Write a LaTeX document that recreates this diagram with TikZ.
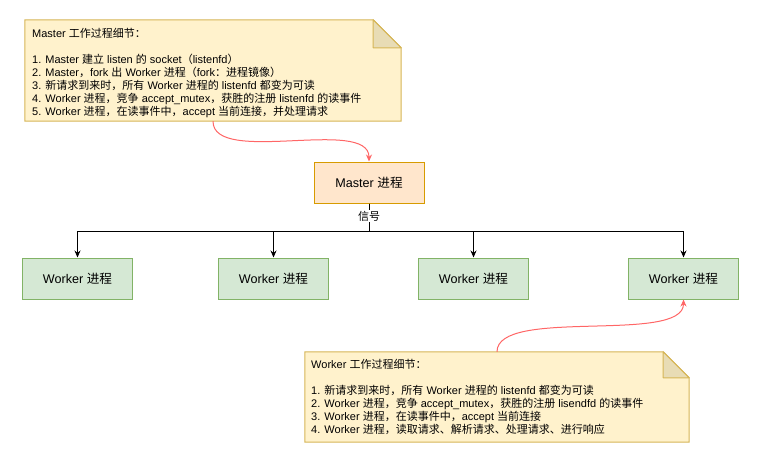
\documentclass[tikz,border=0pt]{standalone}
\usepackage{fontspec}
\setmainfont{Liberation Sans}
\newfontfamily\cjk{Noto Sans CJK SC}
% switch to the CJK font for CJK characters
\XeTeXinterchartokenstate=1
\newXeTeXintercharclass\cjkcls
\makeatletter
\count@="3000
\loop\XeTeXcharclass\count@=\cjkcls\advance\count@ 1 \ifnum\count@<"3040 \repeat
\count@="4E00
\loop\XeTeXcharclass\count@=\cjkcls\advance\count@ 1 \ifnum\count@<"A000 \repeat
\count@="FF00
\loop\XeTeXcharclass\count@=\cjkcls\advance\count@ 1 \ifnum\count@<"FFF0 \repeat
\makeatother
\XeTeXinterchartoks 0 \cjkcls = {\begingroup\cjk}
\XeTeXinterchartoks 4095 \cjkcls = {\begingroup\cjk}
\XeTeXinterchartoks \cjkcls 0 = {\endgroup}
\XeTeXinterchartoks \cjkcls 4095 = {\endgroup}
\usetikzlibrary{arrows.meta}
\definecolor{notefill}{HTML}{FFF2CC}
\definecolor{noteline}{HTML}{D6B656}
\definecolor{notefold}{HTML}{E8DCB5}
\definecolor{masterfill}{HTML}{FFE6CC}
\definecolor{masterline}{HTML}{D79B00}
\definecolor{workerfill}{HTML}{D5E8D4}
\definecolor{workerline}{HTML}{82B366}
\definecolor{linkred}{HTML}{FF6666}
\begin{document}
\begin{tikzpicture}[x=1pt, y=-1pt,
	box/.style={line width=1pt, minimum width=110pt, minimum height=41pt, font=\fontsize{12.6}{14}\selectfont},
	masterbox/.style={box, draw=masterline, fill=masterfill},
	workerbox/.style={box, draw=workerline, fill=workerfill},
	notearea/.style={inner sep=0pt},
	note/.style={draw=noteline, fill=notefill, line width=1pt},
	fold/.style={draw=noteline, fill=notefold, line width=1pt, line join=round},
	notetext/.style={anchor=north west, inner sep=0pt, align=left, font=\fontsize{11}{13}\selectfont},
	edge/.style={draw, line width=1pt, -{Stealth[length=7pt, width=6pt]}},
	redlink/.style={draw=linkred, line width=1pt, -{Stealth[length=7pt, width=6pt]}}]
	\useasboundingbox (0, 0) rectangle (761, 460);
	% master note
	\node[notearea, minimum width=376pt, minimum height=101pt] (mnote) at (213, 70.5) {};
	\draw[note] (mnote.south west) -- (mnote.north west) -- ([xshift=-28pt]mnote.north east)
		-- ([yshift=-28pt]mnote.north east) -- (mnote.south east) -- cycle;
	\draw[fold] ([xshift=-28pt]mnote.north east) -- ([xshift=-28pt, yshift=-28pt]mnote.north east)
		-- ([yshift=-28pt]mnote.north east) -- cycle;
	\node[notetext] (mtext) at (32, 28.5) {Master 工作过程细节：\\[13pt]
		1. Master 建立 listen 的 socket（listenfd）\\
		2. Master，fork 出 Worker 进程（fork：进程镜像）\\
		3. 新请求到来时，所有 Worker 进程的 listenfd 都变为可读\\
		4. Worker 进程，竞争 accept\_mutex，获胜的注册 listenfd 的读事件\\
		5. Worker 进程，在读事件中，accept 当前连接，并处理请求};
	% processes
	\node[masterbox] (master) at (369, 182.5) {Master 进程};
	\node[workerbox] (w1) at (77.5, 278.5) {Worker 进程};
	\node[workerbox] (w2) at (273.5, 278.5) {Worker 进程};
	\node[workerbox] (w3) at (473.5, 278.5) {Worker 进程};
	\node[workerbox] (w4) at (683.5, 278.5) {Worker 进程};
	\coordinate (bus) at (369, 231);
	\foreach \w in {w1, w2, w3, w4}
		\draw[edge] (master.south) -- (bus) -| (\w.north);
	\node[fill=white, inner sep=1pt, font=\fontsize{11}{13}\selectfont] (signal) at (369, 216) {信号};
	% worker note
	\node[notearea, minimum width=384pt, minimum height=90pt] (wnote) at (497, 397) {};
	\draw[note] (wnote.south west) -- (wnote.north west) -- ([xshift=-26pt]wnote.north east)
		-- ([yshift=-26pt]wnote.north east) -- (wnote.south east) -- cycle;
	\draw[fold] ([xshift=-26pt]wnote.north east) -- ([xshift=-26pt, yshift=-26pt]wnote.north east)
		-- ([yshift=-26pt]wnote.north east) -- cycle;
	\node[notetext] (wtext) at (311, 359.5) {Worker 工作过程细节：\\[13pt]
		1. 新请求到来时，所有 Worker 进程的 listenfd 都变为可读\\
		2. Worker 进程，竞争 accept\_mutex，获胜的注册 lisendfd 的读事件\\
		3. Worker 进程，在读事件中，accept 当前连接\\
		4. Worker 进程，读取请求、解析请求、处理请求、进行响应};
	% note links
	\draw[redlink] (mnote.south) .. controls +(0, 45) and +(0, -45) .. (master.north);
	\draw[redlink] (wnote.north) .. controls +(0, -45) and +(0, 45) .. (w4.south);
\end{tikzpicture}
\end{document}
